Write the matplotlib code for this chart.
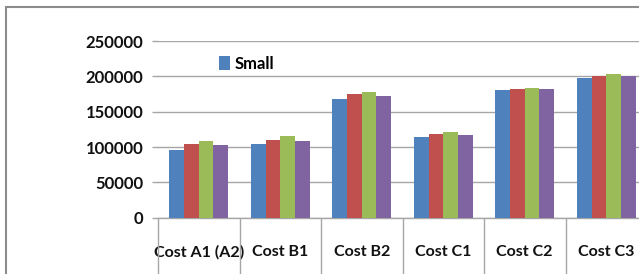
import matplotlib
matplotlib.use("Agg")
import matplotlib.pyplot as plt
import numpy as np
from matplotlib.patches import Rectangle, Patch

categories = ["Cost A1 (A2)", "Cost B1", "Cost B2", "Cost C1", "Cost C2", "Cost C3"]
series_names = ["Small", "Series 2", "Series 3", "Series 4"]
s1 = [96000, 104000, 168500, 114700, 180900, 197900]
s2 = [104000, 110000, 174800, 119000, 182300, 200700]
s3 = [108600, 115300, 177600, 121000, 183700, 203100]
s4 = [102500, 108600, 172800, 117600, 182300, 200700]
yticks = [0, 50000, 100000, 150000, 200000, 250000]
colors = ["#4F81BD", "#C0504D", "#9BBB59", "#8064A2"]

plt.rcParams['font.family'] = ['Lato', 'DejaVu Sans']

W, H = 639, 274
fig = plt.figure(figsize=(W / 100, H / 100), dpi=100)

# outer chart border (cropped on right/bottom)
fig.patches.append(Rectangle((6 / W, -0.1), 1.2, (H - 6.5) / H + 0.1,
                             transform=fig.transFigure, fill=False,
                             edgecolor="#8c8c8c", linewidth=1.5))

left = 158 / W
right = 647 / W
bottom = (H - 217.7) / H
top = (H - 41) / H
ax = fig.add_axes([left, bottom, right - left, top - bottom])

x = np.arange(len(categories))
bw = 0.18
data = [s1, s2, s3, s4]
for i, (vals, c) in enumerate(zip(data, colors)):
    ax.bar(x + (i - 1.5) * bw, vals, width=bw, color=c, zorder=3)

ax.set_xlim(-0.5, len(categories) - 0.5)
ax.set_ylim(0, 250000)
ax.set_yticks(yticks)
ax.set_yticklabels([str(v) for v in yticks], fontsize=12, fontweight='bold',
                   color="#111111")
ax.yaxis.grid(True, color="#a6a6a6", linewidth=1, zorder=0)
ax.set_axisbelow(True)

ax.set_xticks(x)
ax.set_xticklabels(categories, fontsize=11.5, fontweight='bold', color="#111111")
ax.set_xticks(np.arange(-0.5, len(categories) + 0.5, 1), minor=True)
ax.tick_params(axis='x', which='major', length=0, pad=20)
ax.tick_params(axis='x', which='minor', length=42, color="#a6a6a6", width=1)
ax.tick_params(axis='y', length=4.5, color="#a6a6a6", width=1, pad=6)

for sp in ["top", "right"]:
    ax.spines[sp].set_visible(False)
ax.spines["left"].set_visible(False)
ax.spines["bottom"].set_color("#a6a6a6")
ax.spines["bottom"].set_linewidth(1)

leg_handles = [Patch(facecolor=colors[0])]
ax.legend(leg_handles, series_names[:1], loc="upper left",
          bbox_to_anchor=((219 - 158) / (647 - 158), 1 - (56 - 41) / 176.7),
          frameon=False, prop={'size': 12, 'weight': 'bold'},
          handlelength=0.65, handleheight=0.9,
          handletextpad=0.3, borderaxespad=0, borderpad=0)

fig.savefig("out.png", dpi=100)
